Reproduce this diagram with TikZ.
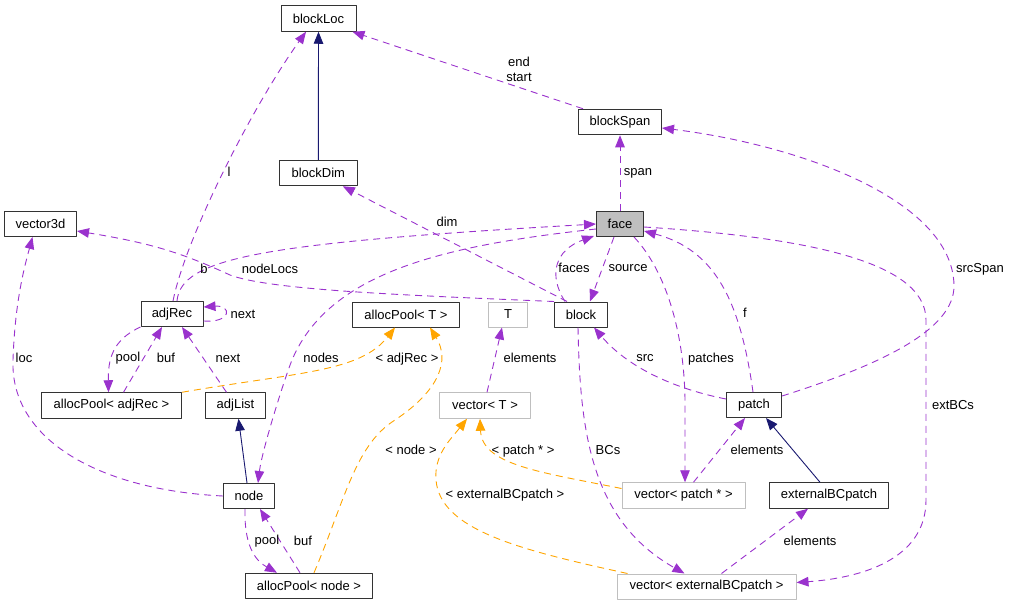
\documentclass[tikz,border=0pt]{standalone}
\usepackage{fontspec}
\setmainfont{Liberation Sans}
\usetikzlibrary{arrows.meta}
\definecolor{relpurple}{HTML}{9A32CD}
\definecolor{inhnavy}{HTML}{191970}
\definecolor{tplorange}{HTML}{FFA500}
\definecolor{tplgrey}{HTML}{BFBFBF}
\definecolor{boxedge}{HTML}{333333}

\begin{document}
\begin{tikzpicture}[x=1pt, y=-1pt, line join=round,
  font=\fontsize{13}{15}\selectfont,
  cls/.style={draw=boxedge, line width=1pt, fill=white, minimum height=25.5pt, inner sep=0pt},
  tplcls/.style={cls, draw=tplgrey},
  curcls/.style={cls, fill=tplgrey},
  usage/.style={relpurple, line width=0.9pt, dash pattern=on 7pt off 5pt, -{Triangle[length=12pt,width=9.5pt]}},
  inherit/.style={inhnavy, line width=0.9pt, -{Triangle[length=12pt,width=9.5pt]}},
  tplinst/.style={usage, tplorange},
  lbl/.style={inner sep=0pt, text=black}]

  \useasboundingbox (0,0) rectangle (1011,605);

  % ============ classes ============
  \node[cls, minimum width=75pt] (blockLoc) at (318.5,18.5) {blockLoc};
  \node[cls, minimum width=83pt] (blockSpan) at (620,122) {blockSpan};
  \node[cls, minimum width=78pt] (blockDim) at (318.3,173) {blockDim};
  \node[cls, minimum width=72pt, minimum height=25pt] (vector3d) at (40.5,224) {vector3d};
  \node[curcls, minimum width=47pt, minimum height=25pt] (face) at (620,224) {face};
  \node[cls, minimum width=62pt, minimum height=25pt] (adjRec) at (172,314) {adjRec};
  \node[cls, minimum width=107pt, minimum height=25pt] (allocPoolT) at (406,314.5) {allocPool< T >};
  \node[tplcls, minimum width=39pt, minimum height=25pt] (T) at (508,314.5) {T};
  \node[cls, minimum width=53pt, minimum height=25pt] (block) at (581,314.5) {block};
  \node[cls, minimum width=140pt] (allocPoolAdj) at (111.5,405.5) {allocPool< adjRec >};
  \node[cls, minimum width=60pt] (adjList) at (235.5,405.5) {adjList};
  \node[tplcls, minimum width=91pt] (vectorT) at (485,405.5) {vector< T >};
  \node[cls, minimum width=55pt, minimum height=25pt] (patch) at (754,405) {patch};
  \node[cls, minimum width=51pt, minimum height=25pt] (node) at (249,496) {node};
  \node[tplcls, minimum width=123pt] (vecPatch) at (683.5,495.5) {vector< patch * >};
  \node[cls, minimum width=119pt] (extBCpatch) at (829,495.5) {externalBCpatch};
  \node[cls, minimum width=127pt] (allocPoolNode) at (309,586) {allocPool< node >};
  \node[tplcls, minimum width=179pt, minimum height=25pt] (vecExt) at (706.5,586.5) {vector< externalBCpatch >};

  % ============ inheritance ============
  \draw[inherit] (blockDim.north) -- (blockLoc.south);
  \draw[inherit] ([xshift=-2pt]node.north) -- ([xshift=3pt]adjList.south);
  \draw[inherit] ([xshift=-9pt]extBCpatch.north) -- ([xshift=12pt]patch.south);

  % ============ members ============
  \draw[usage] ([xshift=1pt]adjRec.north) .. controls (185,240) and (250,110) .. ([xshift=-12.5pt]blockLoc.south);
  \draw[usage] ([xshift=-37pt]blockSpan.north) -- ([xshift=-4pt]blockLoc.south east);
  \draw[usage] (face.north) -- (blockSpan.south);
  \draw[usage] ([yshift=9pt]patch.east) .. controls (880,365) and (955,330) .. (954,285)
    .. controls (952,200) and (800,145) .. ([yshift=-6pt]blockSpan.east);
  \draw[usage] ([xshift=-14pt]block.north) -- ([xshift=-15pt]blockDim.south east);
  \draw[usage] (block.north west) .. controls (400,295) and (270,290) .. (230,275)
    .. controls (180,252) and (150,243) .. ([yshift=-7pt]vector3d.east);
  \draw[usage] (node.west) .. controls (100,490) and (10,440) .. (13,360)
    .. controls (15,300) and (25,265) .. ([xshift=-8pt]vector3d.south);
  \draw[usage] ([xshift=5pt]adjRec.north) .. controls (181,258) and (260,243) .. (face.west);
  \draw[usage] ([yshift=-5pt]face.west) .. controls (450,245) and (330,270) .. (292,360)
    .. controls (285,377) and (262,450) .. ([xshift=9pt]node.north);
  \draw[usage] ([xshift=-16pt]block.north) .. controls (548,275) and (555,250) .. ([xshift=-2pt,yshift=1pt]face.south west);
  \draw[usage] ([xshift=-6pt]face.south) -- ([xshift=9pt]block.north);
  \draw[usage] ([xshift=-1pt]patch.north) .. controls (740,300) and (715,250) .. ([yshift=-7pt]face.east);
  \draw[usage] ([xshift=14pt]face.south) .. controls (665,270) and (684,330) .. (685,400) -- ([xshift=1.5pt]vecPatch.north);
  \draw[usage] ([yshift=-3pt]face.east) .. controls (800,237) and (926,260) .. (926,320) -- (926,500)
    .. controls (926,560) and (860,578) .. ([yshift=4pt]vecExt.east);
  \draw[usage] ([xshift=-3pt]block.south) .. controls (580,430) and (590,520) .. ([xshift=-22pt]vecExt.north);
  \draw[usage] ([yshift=6pt]patch.west) .. controls (680,390) and (630,370) .. ([xshift=13pt]block.south);
  \draw[usage] ([yshift=-7pt]adjRec.east) .. controls (232,323) and (232,305) .. ([yshift=7pt]adjRec.east);
  \draw[usage] (adjRec.south west) .. controls (112,340) and (108,360) .. ([xshift=-3pt]allocPoolAdj.north);
  \draw[usage] ([xshift=12pt]allocPoolAdj.north) -- ([xshift=-10pt]adjRec.south);
  \draw[usage] ([xshift=-9pt]adjList.north) -- ([xshift=10pt]adjRec.south);
  \draw[usage] ([xshift=-4pt]node.south) .. controls (244,550) and (258,562) .. ([xshift=-32pt]allocPoolNode.north);
  \draw[usage] ([xshift=-9pt]allocPoolNode.north) -- ([xshift=11pt]node.south);
  \draw[usage] ([xshift=2pt]vectorT.north) -- ([xshift=-6pt]T.south);
  \draw[usage] ([xshift=10pt]vecPatch.north) -- ([xshift=-9pt]patch.south);
  \draw[usage] ([xshift=15pt]vecExt.north) -- ([xshift=-21pt]extBCpatch.south);

  % ============ template instances ============
  \draw[tplinst] (allocPoolAdj.north east) .. controls (300,372) and (360,372) .. ([xshift=-11pt]allocPoolT.south);
  \draw[tplinst] ([xshift=5pt]allocPoolNode.north) .. controls (345,500) and (355,445) .. (395,420)
    .. controls (440,390) and (450,360) .. ([xshift=24pt]allocPoolT.south);
  \draw[tplinst] ([yshift=7pt]vecPatch.west) .. controls (540,472) and (482,465) .. ([xshift=-5pt]vectorT.south);
  \draw[tplinst] ([xshift=11pt]vecExt.north west) .. controls (520,550) and (440,530) .. (436,480)
    .. controls (434,455) and (450,440) .. ([xshift=-18pt]vectorT.south);

  % ============ labels ============
  \node[lbl] (lblL) at (229,172) {l};
  \node[lbl, align=center] (lblEnd) at (519,69) {end\\start};
  \node[lbl] (lblSpan) at (638,173) {span};
  \node[lbl] (lblSrcSpan) at (980,269) {srcSpan};
  \node[lbl] (lblDim) at (447,222) {dim};
  \node[lbl] (lblNodeLocs) at (270,269) {nodeLocs};
  \node[lbl] (lblLoc) at (24,358) {loc};
  \node[lbl] (lblB) at (204,269) {b};
  \node[lbl] (lblNodes) at (321,358) {nodes};
  \node[lbl] (lblFaces) at (574,268) {faces};
  \node[lbl] (lblSource) at (628,268) {source};
  \node[lbl] (lblF) at (745,313) {f};
  \node[lbl] (lblPatches) at (711,359) {patches};
  \node[lbl] (lblExtBCs) at (953,405) {extBCs};
  \node[lbl] (lblBCs) at (608,450) {BCs};
  \node[lbl] (lblSrc) at (645,358) {src};
  \node[lbl] (lblNext) at (243,314) {next};
  \node[lbl] (lblPool) at (128,358) {pool};
  \node[lbl] (lblBuf) at (166,358) {buf};
  \node[lbl] (lblNextB) at (228,358) {next};
  \node[lbl] (lblPoolB) at (267,541) {pool};
  \node[lbl] (lblBufB) at (303,541) {buf};
  \node[lbl] (lblAdjRec) at (407,359) {< adjRec >};
  \node[lbl] (lblNode) at (411,450) {< node >};
  \node[lbl] (lblElemT) at (530,358) {elements};
  \node[lbl] (lblPatchPtr) at (523,451) {< patch * >};
  \node[lbl] (lblExtTpl) at (505,495) {< externalBCpatch >};
  \node[lbl] (lblElemP) at (757,450) {elements};
  \node[lbl] (lblElemE) at (810,541) {elements};

\end{tikzpicture}
\end{document}
